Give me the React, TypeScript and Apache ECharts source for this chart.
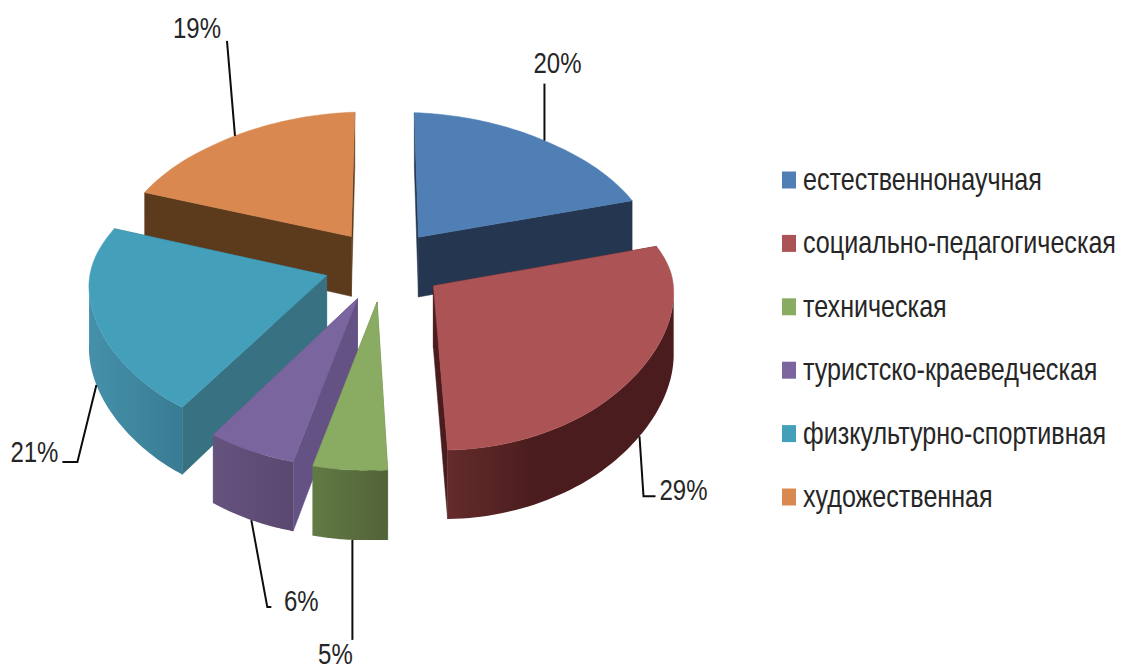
import React, { useEffect, useRef } from "react";
import * as echarts from "echarts";

const categories = [
  "естественнонаучная",
  "социально-педагогическая",
  "техническая",
  "туристско-краеведческая",
  "физкультурно-спортивная",
  "художественная",
];
const values = [20, 29, 5, 6, 21, 19];

const topColors = ["#4F7FB5", "#AB5355", "#8AAB62", "#7A659E", "#439FBA", "#D9894F"];
const cutColors = ["#243650", "#4A1C1D", "#617A44", "#655284", "#387282", "#5C3A1C"];
const wallLeft = ["#243650", "#642B2B", "#617A44", "#65537F", "#4690AA", "#5C3A1C"];
const wallRight = ["#243650", "#4A1C1D", "#526338", "#5A4870", "#387C93", "#5C3A1C"];
const drawRank = [1, 5, 4, 3, 2, 0];

// leader: knee points relative to the anchor on the rim; label centre relative to the anchor
const leaderAngleShift = [1.5, -3, -0.7, 0, 0, 0];
const leaderKnees: number[][][] = [
  [[0, -57]],
  [[4, 60], [16, 60]],
  [[0, 100]],
  [[16, 87], [20, 87]],
  [[-19, 77], [-34, 77]],
  [[-8, -95]],
];
const labelOffsets: number[][] = [
  [13, -78],
  [44, 53],
  [-17, 114],
  [50, 80],
  [-62, 67],
  [-38, -108],
];

const FONT = '"Liberation Sans", sans-serif';
const CX = 384, CY = 265.5, R = 236, EXPLODE = 59, K = 0.605, DIST = 2300, H = 61;
const total = values.reduce((a, b) => a + b, 0);

function project(x: number, y: number, drop: boolean) {
  const w = 1 - y / DIST;
  const back = (y - Math.sqrt(y * y + 900)) / 2;
  const scale = x > 0 ? 1.02 * (1 + back * 0.0005) : 1.01 * (1 + back * 0.00045);
  const shearWeight = Math.max(0, Math.min(1, 1 - x / 80));
  const sx = x * scale - Math.max(y, 0) * 0.022 * shearWeight;
  return [CX + sx, CY + (K * y) / w + (drop ? H / w : 0)];
}

function makeRender(i: number) {
  return (_params: any, api: any) => {
    const value = api.value(0) as number;
    let before = 0;
    for (let j = 0; j < i; j++) before += values[j];
    const a0 = (before / total) * Math.PI * 2;
    const a1 = ((before + value) / total) * Math.PI * 2;
    const mid = (a0 + a1) / 2;
    const ax = EXPLODE * Math.sin(mid);
    const ay = -EXPLODE * Math.cos(mid);
    const rim = (t: number, drop: boolean) => {
      const p = project(ax + R * Math.sin(t), ay - R * Math.cos(t), drop);
      return [p[0], p[1] + 4.5 * Math.min(1, Math.abs(Math.sin(t)) * 1.5)];
    };
    const steps = 64;
    const top: number[][] = [];
    const bottom: number[][] = [];
    for (let s = 0; s <= steps; s++) {
      const t = a0 + ((a1 - a0) * s) / steps;
      top.push(rim(t, false));
      if (Math.cos(t) <= 0) bottom.push([t, ...rim(t, true)]);
    }
    const wallTop = bottom.map((b) => rim(b[0], false));
    const wallBottom = bottom.map((b) => [b[1], b[2]]);
    const apexT = project(ax, ay, false);
    const apexB = project(ax, ay, true);
    const poly = (points: number[][], fill: any, stroke: any) => ({
      type: "polygon",
      shape: { points },
      style: { fill, stroke, lineWidth: 0.5 },
    });
    const wallFill = new echarts.graphic.LinearGradient(0, 0, 1, 0, [
      { offset: 0, color: wallLeft[i] },
      { offset: i === 1 ? 0.4 : 1, color: wallRight[i] },
      { offset: 1, color: wallRight[i] },
    ]);
    const front = Math.cos(mid) < 0;
    const anchor = rim(mid + (leaderAngleShift[i] * Math.PI) / 180, front);
    const leaderPts = [anchor, ...leaderKnees[i].map((k) => [anchor[0] + k[0], anchor[1] + k[1]])];
    const children: any[] = [
      poly([apexT, top[steps], rim(a1, true), apexB], cutColors[i], cutColors[i]),
      poly([apexT, top[0], rim(a0, true), apexB], cutColors[i], cutColors[i]),
    ];
    if (wallTop.length > 1) {
      children.push(poly([...wallTop, ...wallBottom.slice().reverse()], wallFill, "none"));
    }
    children.push(
      poly([apexT, ...top], topColors[i], topColors[i]),
      {
        type: "polyline",
        shape: { points: leaderPts },
        style: { stroke: "#0d0d0d", lineWidth: 2, fill: "none" },
      },
      {
        type: "text",
        x: anchor[0] + labelOffsets[i][0],
        y: anchor[1] + labelOffsets[i][1],
        scaleX: 0.8,
        style: {
          text: `${value}%`,
          x: 0,
          y: 0,
          align: "center",
          verticalAlign: "middle",
          fill: "#262626",
          font: `30px ${FONT}`,
        },
      }
    );
    return { type: "group", children };
  };
}

const LEGEND_X = 782, LEGEND_Y = 179, LEGEND_STEP = 63.4;

export default function App() {
  const ref = useRef<HTMLDivElement>(null);
  useEffect(() => {
    document.body.style.margin = "0";
    document.body.style.background = "#fff";
    const chart = echarts.init(ref.current!, undefined, { renderer: "svg" });
    chart.setOption({
      animation: false,
      backgroundColor: "#ffffff",
      graphic: categories.flatMap((name, i) => [
        {
          type: "rect",
          x: LEGEND_X,
          y: LEGEND_Y + 1 + i * LEGEND_STEP - 8.5,
          shape: { x: 0, y: 0, width: 14, height: 17 },
          style: { fill: topColors[i] },
        },
        {
          type: "text",
          x: 803,
          y: LEGEND_Y + i * LEGEND_STEP,
          scaleX: 0.81,
          style: {
            text: name,
            x: 0,
            y: 0,
            verticalAlign: "middle",
            fill: "#262626",
            font: `31px ${FONT}`,
          },
        },
      ]),
      series: categories.map((name, i) => ({
        type: "custom",
        name,
        coordinateSystem: "none",
        silent: true,
        z: 2 + drawRank[i],
        itemStyle: { color: topColors[i] },
        data: [[values[i]]],
        renderItem: makeRender(i),
      })),
    });
    return () => chart.dispose();
  }, []);
  return <div ref={ref} style={{ position: "absolute", left: 0, top: 0, width: 1122, height: 671 }} />;
}
